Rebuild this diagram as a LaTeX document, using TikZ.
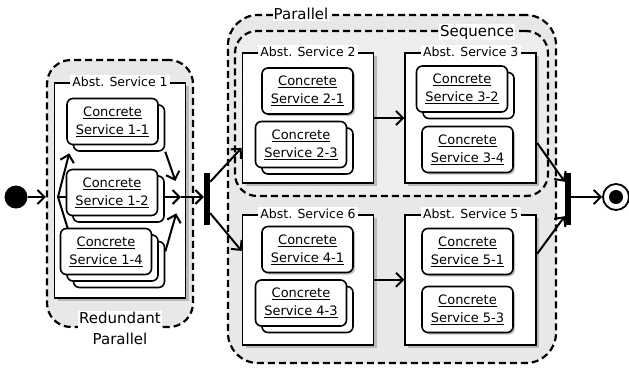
\documentclass[tikz,border=0pt]{standalone}
\usepackage{fontspec}
\setmainfont{DejaVu Sans}
\usetikzlibrary{arrows.meta, shadows, patterns, positioning}
\pgfdeclarelayer{back}
\pgfdeclarelayer{mid}
\pgfsetlayers{back,mid,main}
\newcommand{\conc}[1]{\underline{Concrete}\\\underline{Service #1}}

\begin{document}
\begin{tikzpicture}[
    x=1pt, y=-1pt,
    group/.style={rectangle, draw, dash pattern=on 7pt off 4pt, line width=2.2pt,
                  fill=gray!18, rounded corners=24pt},
    hatched/.style={preaction={fill=gray!8}, pattern=north east lines, pattern color=gray!25},
    glabel/.style={fill=white, inner sep=1pt, align=center, font=\fontsize{15}{21}\selectfont},
    alabel/.style={anchor=center, fill=white, inner sep=2.5pt, font=\fontsize{12.5}{15}\selectfont},
    abst/.style={rectangle, draw, line width=1.8pt, fill=white,
                 minimum width=131pt, minimum height=130pt,
                 drop shadow={shadow xshift=3pt, shadow yshift=-3pt, fill=gray!55, opacity=1},
                 label={[alabel]north:#1}},
    concrete/.style={rectangle, draw, rounded corners=6pt, line width=1.6pt, fill=white,
                     minimum width=91pt, minimum height=46pt, inner sep=1pt, align=center,
                     font=\fontsize{13}{18}\selectfont,
                     drop shadow={shadow xshift=2pt, shadow yshift=-2pt, fill=gray!50, opacity=1}},
    stack2/.style={concrete, copy shadow={shadow xshift=6.5pt, shadow yshift=-6.5pt}},
    stack3/.style={concrete, double copy shadow={shadow xshift=6.5pt, shadow yshift=-6.5pt}},
    bar/.style={rectangle, fill, minimum width=6pt, minimum height=52pt, inner sep=0pt},
    arr/.style={-{Straight Barb[length=7pt, width=14pt]}, line width=2pt}
  ]
    \useasboundingbox (0,0) rectangle (629,370);

    % Groups and abstract services
    \begin{pgfonlayer}{back}
      \node[group, minimum width=328pt, minimum height=348pt, rounded corners=30pt] (par) at (392,189) {};
      \node[group, hatched, minimum width=313pt, minimum height=165pt, rounded corners=22pt] (seq) at (391.5,113.5) {};
      \node[group, minimum width=146pt, minimum height=267pt] (red) at (120,193.5) {};

      \node[abst=Abst. Service 1, minimum height=215pt] (a1) at (120,190.5) {};
      \node[abst=Abst. Service 2] (a2) at (308,118) {};
      \node[abst=Abst. Service 3, right=30pt of a2] (a3) {};
      \node[abst=Abst. Service 6, below=30pt of a2] (a6) {};
      \node[abst=Abst. Service 5, right=30pt of a6] (a5) {};
    \end{pgfonlayer}

    % Concrete services
    \node[stack2] (c11) at (112.5,121.5) {\conc{1-1}};
    \node[stack2] (c12) at (112,192.5)   {\conc{1-2}};
    \node[stack3] (c14) at (106,251.5)   {\conc{1-4}};
    \node[concrete] (c21) at (307.5,91)  {\conc{2-1}};
    \node[stack2] (c23) at (301,144.5)   {\conc{2-3}};
    \node[stack2] (c32) at (462,89)      {\conc{3-2}};
    \node[concrete] (c34) at (467.5,149.5) {\conc{3-4}};
    \node[concrete] (c41) at (307.5,249.5) {\conc{4-1}};
    \node[stack2] (c43) at (301,303)     {\conc{4-3}};
    \node[concrete] (c51) at (467.5,251.5) {\conc{5-1}};
    \node[concrete] (c53) at (467.5,309.5) {\conc{5-3}};

    % Start, bars, end
    \node[circle, fill, minimum size=23pt, inner sep=0pt] (start) at (16,197) {};
    \node[bar] (bar1) at (207,199) {};
    \node[bar] (bar2) at (568,199) {};
    \node[circle, draw, line width=1.8pt, fill=white, minimum size=26pt, inner sep=0pt] (end) at (616,197) {};
    \node[circle, fill, minimum size=14pt, inner sep=0pt] (endin) at (end) {};

    % Redundant parallel
    \coordinate (in1) at (58,197);
    \coordinate (join1) at (181,197);
    \draw[arr] (start) -- (start -| red.west);
    \draw[arr] (in1) -- ([xshift=3pt, yshift=-8pt]c11.south west);
    \begin{pgfonlayer}{mid}
      \draw[arr] (in1) -- (in1 -| c12.center);
      \draw[arr] (in1) -- ([xshift=14pt, yshift=-20pt]c14.north west);
    \end{pgfonlayer}
    \draw[arr, shorten >=17pt] ([xshift=6.5pt, yshift=-6.5pt]c11.south east) -- (join1);
    \draw[arr, shorten <=6.5pt] (join1 -| c12.east) -- (join1);
    \draw[arr, shorten >=17pt] ([xshift=13pt]c14.east) -- (join1);
    \draw[arr] (join1) -- (join1 -| bar1.west);

    % Parallel branches
    \draw[arr] ([yshift=-9pt]bar1.north east) -- ([yshift=36pt]a2.south west);
    \draw[arr] ([yshift=12pt]bar1.south east) -- ([yshift=-37pt]a6.north west);
    \draw[arr] (a2.east) -- (a3.west);
    \draw[arr] (a6.east) -- (a5.west);
    \draw[arr] ([yshift=-25pt]a3.east) -- ([yshift=-9pt]bar2.north west);
    \draw[arr] ([yshift=26pt]a5.east) -- ([yshift=9pt]bar2.south west);
    \draw[arr] (end -| bar2.east) -- (end);

    % Group labels
    \node[glabel, anchor=north] (redlbl) at (120,311) {Redundant\\Parallel};
    \node[glabel] (parlbl) at (301,14) {Parallel};
    \node[glabel] (seqlbl) at (477,32) {Sequence};
\end{tikzpicture}
\end{document}
